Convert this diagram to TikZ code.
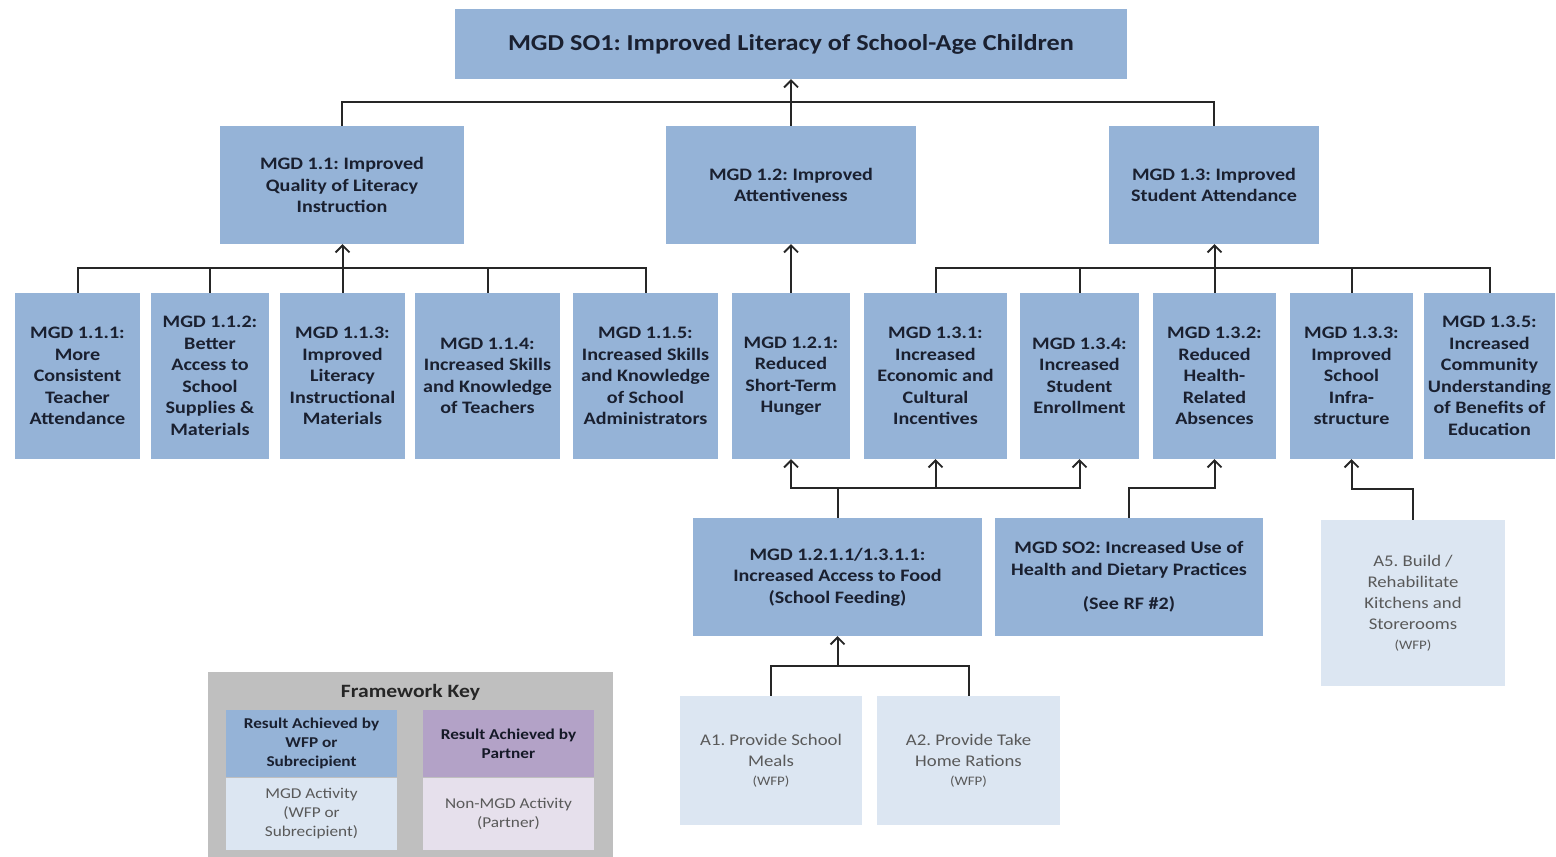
\documentclass[tikz,border=0pt]{standalone}
\usepackage{fontspec}
\setmainfont[FakeStretch=1.15]{Carlito}
\usetikzlibrary{arrows.meta}
\definecolor{mblue}{HTML}{95B3D7}
\definecolor{mlight}{HTML}{DCE6F2}
\definecolor{kgrey}{HTML}{BFBFBF}
\definecolor{kpurple}{HTML}{B3A2C7}
\definecolor{klpurple}{HTML}{E6E0EC}
\definecolor{dtext}{HTML}{1A2030}
\definecolor{gtext}{HTML}{595959}
\tikzset{
  res/.style={fill=mblue, draw=none, inner sep=0pt, align=center, text=dtext,
    font=\bfseries\fontsize{17.5}{21.5}\selectfont},
  act/.style={fill=mlight, draw=none, inner sep=0pt, align=center, text=gtext,
    font=\fontsize{16.3}{21.2}\selectfont},
  ln/.style={line width=2pt, draw=black!85},
  arr/.style={ln, -{Straight Barb[length=7pt,width=14pt,line width=1.8pt]}},
  keybox/.style={inner sep=0pt, align=center, minimum width=171pt},
}
\newcommand{\wfp}{\\[-2pt]{\fontsize{13}{16}\selectfont (WFP)}}
\begin{document}
\frenchspacing
\begin{tikzpicture}[x=1pt,y=-1pt]
\useasboundingbox (0,0) rectangle (1556,857);
% top
\node[res, minimum width=672pt, minimum height=70pt, font=\bfseries\fontsize{22.8}{26}\selectfont] (top) at (791,44) {MGD SO1: Improved Literacy of School-Age Children};
% level 2
\node[res, minimum width=244pt, minimum height=118pt] (m11) at (342,185) {MGD 1.1: Improved\\Quality of Literacy\\Instruction};
\node[res, minimum width=250pt, minimum height=118pt] (m12) at (791,185) {MGD 1.2: Improved\\Attentiveness};
\node[res, minimum width=210pt, minimum height=118pt] (m13) at (1214,185) {MGD 1.3: Improved\\Student Attendance};
% level 3
\node[res, minimum width=125pt, minimum height=166pt] (m111) at (77.5,376) {MGD 1.1.1:\\More\\Consistent\\Teacher\\Attendance};
\node[res, minimum width=118pt, minimum height=166pt] (m112) at (210,376) {MGD 1.1.2:\\Better\\Access to\\School\\Supplies \&\\Materials};
\node[res, minimum width=125pt, minimum height=166pt] (m113) at (342.5,376) {MGD 1.1.3:\\Improved\\Literacy\\Instructional\\Materials};
\node[res, minimum width=145pt, minimum height=166pt] (m114) at (487.5,376) {MGD 1.1.4:\\Increased Skills\\and Knowledge\\of Teachers};
\node[res, minimum width=145pt, minimum height=166pt] (m115) at (645.5,376) {MGD 1.1.5:\\Increased Skills\\and Knowledge\\of School\\Administrators};
\node[res, minimum width=118pt, minimum height=166pt] (m121) at (791,376) {MGD 1.2.1:\\Reduced\\Short-Term\\Hunger};
\node[res, minimum width=143pt, minimum height=166pt] (m131) at (935.5,376) {MGD 1.3.1:\\Increased\\Economic and\\Cultural\\Incentives};
\node[res, minimum width=119pt, minimum height=166pt] (m134) at (1079.5,376) {MGD 1.3.4:\\Increased\\Student\\Enrollment};
\node[res, minimum width=123pt, minimum height=166pt] (m132) at (1214.5,376) {MGD 1.3.2:\\Reduced\\Health-\\Related\\Absences};
\node[res, minimum width=123pt, minimum height=166pt] (m133) at (1351.5,376) {MGD 1.3.3:\\Improved\\School\\Infra-\\structure};
\node[res, minimum width=131pt, minimum height=166pt] (m135) at (1489.5,376) {MGD 1.3.5:\\Increased\\Community\\Understanding\\of Benefits of\\Education};
% lower
\node[res, minimum width=289pt, minimum height=118pt] (m1211) at (837.5,577) {MGD 1.2.1.1/1.3.1.1:\\Increased Access to Food\\(School Feeding)};
\node[res, minimum width=268pt, minimum height=118pt] (so2) at (1129,577) {MGD SO2: Increased Use of\\Health and Dietary Practices\\[13pt](See RF \#2)};
\node[act, minimum width=184pt, minimum height=166pt] (a5) at (1413,603) {A5. Build /\\Rehabilitate\\Kitchens and\\Storerooms\wfp};
\node[act, minimum width=182pt, minimum height=129pt] (a1) at (771,760.5) {A1. Provide School\\Meals\wfp};
\node[act, minimum width=183pt, minimum height=129pt] (a2) at (968.5,760.5) {A2. Provide Take\\Home Rations\wfp};
% connectors level 1-2
\draw[ln] (m11.north) -- ++(0,-24) -| (m13.north);
\draw[arr] (m12.north) -- (top.south);
% group 1.1
\draw[ln] (m111.north) -- ++(0,-25) -| (m115.north);
\draw[ln] (m112.north) -- ++(0,-25);
\draw[ln] (m114.north) -- ++(0,-25);
\draw[arr] (m113.north) -- (m113.north |- m11.south);
% 1.2.1
\draw[arr] (m121.north) -- (m12.south);
% group 1.3
\draw[ln] (m131.north) -- ++(0,-25) -| (m135.north);
\draw[ln] (m134.north) -- ++(0,-25);
\draw[ln] (m133.north) -- ++(0,-25);
\draw[arr] (m132.north) -- (m132.north |- m13.south);
% school feeding
\draw[ln] (m1211.north) -- ++(0,-30) coordinate (j1);
\draw[arr] (j1) -| (m121.south);
\draw[arr] (j1) -| (m134.south);
\draw[arr] (m131.south |- j1) -- (m131.south);
% SO2
\draw[arr] (so2.north) -- ++(0,-30) -| (m132.south);
% A5
\draw[arr] (a5.north) -- ++(0,-31) -| (m133.south);
% A1 / A2
\draw[ln] (a1.north) -- ++(0,-30) coordinate (j2) -| (a2.north);
\draw[arr] (m1211.south |- j2) -- (m1211.south);
% key
\node[fill=kgrey, inner sep=0pt, minimum width=405pt, minimum height=185pt] (key) at (410.5,764.5) {};
\node[font=\bfseries\fontsize{18.8}{22}\selectfont, text=black!85] (keyt) at (410.5,692) {Framework Key};
\node[keybox, fill=mblue, minimum height=67pt, text=dtext, font=\bfseries\fontsize{15}{19}\selectfont] (k1) at (311.5,743.5) {Result Achieved by\\WFP or\\Subrecipient};
\node[keybox, fill=kpurple, minimum height=67pt, text=dtext!80!black, font=\bfseries\fontsize{15}{19}\selectfont] (k2) at (508.5,743.5) {Result Achieved by\\Partner};
\node[keybox, fill=mlight, minimum height=72pt, text=gtext, font=\fontsize{15}{19}\selectfont] (k3) at (311.5,814) {MGD Activity\\(WFP or\\Subrecipient)};
\node[keybox, fill=klpurple, minimum height=72pt, text=gtext, font=\fontsize{15}{19}\selectfont] (k4) at (508.5,814) {Non-MGD Activity\\(Partner)};
\end{tikzpicture}
\end{document}
